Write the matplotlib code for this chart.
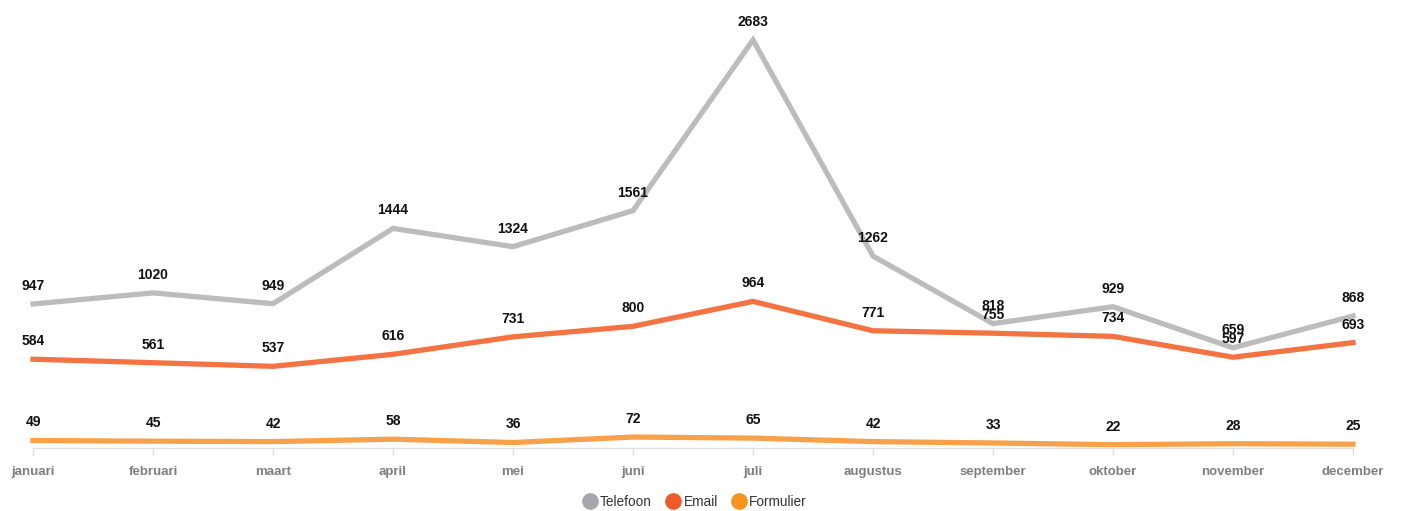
import matplotlib.pyplot as plt
from matplotlib.lines import Line2D

plt.rcParams['font.family'] = ['Liberation Sans', 'DejaVu Sans']

months = ['januari', 'februari', 'maart', 'april', 'mei', 'juni', 'juli',
          'augustus', 'september', 'oktober', 'november', 'december']
telefoon = [947, 1020, 949, 1444, 1324, 1561, 2683, 1262, 818, 929, 659, 868]
email = [584, 561, 537, 616, 731, 800, 964, 771, 755, 734, 597, 693]
formulier = [49, 45, 42, 58, 36, 72, 65, 42, 33, 22, 28, 25]

series = [
    ('Telefoon', telefoon, '#bcbcbc', '#a7a7a9'),
    ('Email', email, '#f37343', '#f05a28'),
    ('Formulier', formulier, '#f7a24b', '#f7941d'),
]

fig = plt.figure(figsize=(14.01, 5.11), dpi=100)
ax = fig.add_axes([33 / 1401, 63 / 511, 1320 / 1401, 448 / 511])

x = list(range(len(months)))
for name, vals, col, _ in series:
    ax.plot(x, vals, color=col, lw=3.8, solid_joinstyle='miter', clip_on=False)
    for xi, v in zip(x, vals):
        ax.annotate(str(v), (xi, v), xytext=(0, 13), textcoords='offset points',
                    ha='center', va='center', fontsize=10, fontweight='bold',
                    color='#111111', annotation_clip=False)

ax.set_xlim(0, 11)
ax.set_ylim(0, 2946)
ax.set_yticks([])
for s in ['top', 'right', 'left']:
    ax.spines[s].set_visible(False)
ax.spines['bottom'].set_color('#e0e0e0')
ax.spines['bottom'].set_linewidth(1)
ax.set_xticks(x)
ax.set_xticklabels(months, fontsize=9.5, fontweight='bold', color='#7f7f7f')
ax.tick_params(axis='x', length=6, width=1, color='#e0e0e0', pad=7)

handles = [Line2D([], [], ls='none', marker='o', markersize=11,
                  markerfacecolor=mc, markeredgecolor=mc) for _, _, _, mc in series]
fig.legend(handles, [s[0] for s in series], loc='center', bbox_to_anchor=(0.496, 9 / 511),
           ncol=3, frameon=False, fontsize=9.8, handlelength=1.0, handletextpad=0.25,
           columnspacing=1.05, labelcolor='#333333')

fig.savefig('out.png', dpi=100)
